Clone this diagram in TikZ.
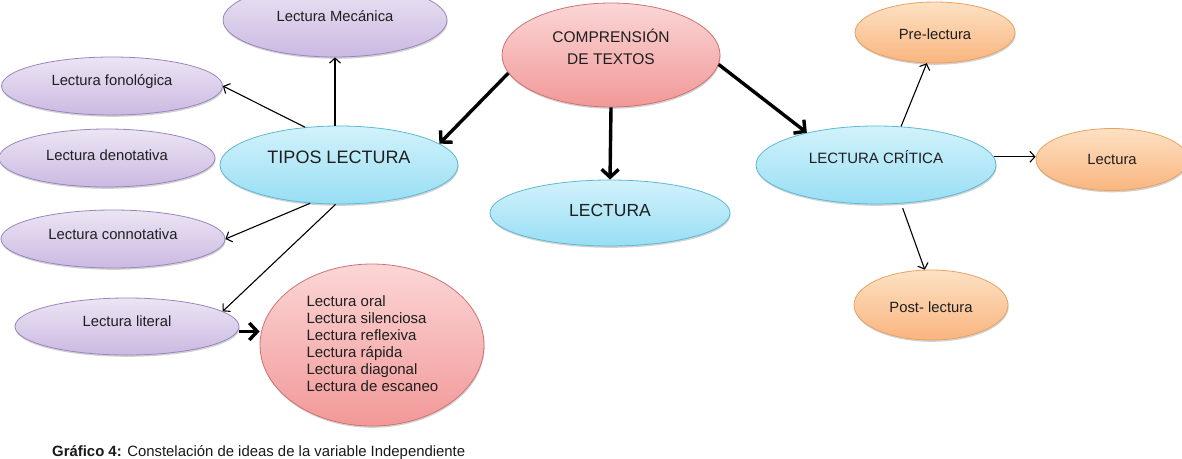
\documentclass[tikz,border=0pt]{standalone}
\usepackage{fontspec}
\setmainfont{Liberation Sans}
\usetikzlibrary{shapes.geometric,arrows.meta,shadows}
\definecolor{purTop}{HTML}{ECE5F4}
\definecolor{purBot}{HTML}{CBB9E2}
\definecolor{purLine}{HTML}{9A86BE}
\definecolor{bluTop}{HTML}{D2F2FB}
\definecolor{bluBot}{HTML}{98DEF4}
\definecolor{bluLine}{HTML}{5DB9D4}
\definecolor{redTop}{HTML}{FBD6D6}
\definecolor{redBot}{HTML}{F29898}
\definecolor{redLine}{HTML}{CF7272}
\definecolor{orTop}{HTML}{FDE1C4}
\definecolor{orBot}{HTML}{F9B57F}
\definecolor{orLine}{HTML}{E9A160}
\begin{document}
\begin{tikzpicture}[x=1pt,y=-1pt,
  ell/.style={ellipse, inner sep=0pt, line width=0.8pt,
    drop shadow={shadow xshift=0.6pt, shadow yshift=-1.8pt, opacity=0.18, fill=black}},
  pur/.style={ell, draw=purLine, top color=purTop, bottom color=purBot},
  blu/.style={ell, draw=bluLine, top color=bluTop, bottom color=bluBot},
  rd/.style={ell, draw=redLine, top color=redTop, bottom color=redBot},
  orn/.style={ell, draw=orLine, top color=orTop, bottom color=orBot},
  sm/.style={font=\fontsize{14.8}{17}\selectfont, text=black!88},
  thin/.style={line width=1.1pt, -{Straight Barb[length=5pt,width=11pt]}},
  thick/.style={line width=3.4pt, -{Straight Barb[length=8pt,width=17pt]}}
]
\useasboundingbox (0,0) rectangle (1182,458);

% left group
\node[pur, minimum width=224pt, minimum height=74pt,
  label={[sm, yshift=4pt]center:Lectura Mecánica}] (meca) at (335,20) {};
\node[pur, minimum width=221pt, minimum height=58pt,
  label={[sm, yshift=4pt]center:Lectura fonológica}] (fono) at (112,86) {};
\node[pur, minimum width=216pt, minimum height=58pt,
  label={[sm, yshift=3pt]center:Lectura denotativa}] (deno) at (107,158) {};
\node[pur, minimum width=224pt, minimum height=58pt,
  label={[sm, yshift=5pt]center:Lectura connotativa}] (conno) at (113,239) {};
\node[pur, minimum width=224pt, minimum height=57pt,
  label={[sm, yshift=5pt]center:Lectura literal}] (lit) at (127,326.5) {};
\node[blu, minimum width=238pt, minimum height=78pt,
  label={[font=\fontsize{18}{20}\selectfont, text=black!88, yshift=8pt]center:TIPOS LECTURA}] (tipos) at (339,165) {};
\node[rd, minimum width=224pt, minimum height=162pt] (list) at (372,345) {};
\node[sm, anchor=west, align=left, font=\fontsize{15}{17}\selectfont] (listtxt) at (303,344)
  {Lectura oral\\Lectura silenciosa\\Lectura reflexiva\\Lectura rápida\\Lectura diagonal\\Lectura de escaneo};

% centre
\node[rd, minimum width=218pt, minimum height=104pt,
  label={[font=\fontsize{15.5}{22}\selectfont, text=black!88, align=center, yshift=8pt]center:COMPRENSIÓN\\DE TEXTOS}] (comp) at (611,55) {};
\node[blu, minimum width=240pt, minimum height=66pt,
  label={[font=\fontsize{17.5}{20}\selectfont, text=black!88, yshift=3pt]center:LECTURA}] (lect) at (610,213) {};

% right group
\node[blu, minimum width=240pt, minimum height=78pt,
  label={[font=\fontsize{15}{18}\selectfont, text=black!88, yshift=8pt]center:LECTURA CRÍTICA}] (crit) at (876,165) {};
\node[orn, minimum width=160pt, minimum height=61pt,
  label={[sm, yshift=-2pt]center:Pre-lectura}] (pre) at (935,32.5) {};
\node[orn, minimum width=152pt, minimum height=62pt,
  label={[sm]center:Lectura}] (lec2) at (1112,159.5) {};
\node[orn, minimum width=154pt, minimum height=70pt,
  label={[sm, yshift=-2pt]center:Post- lectura}] (post) at (931,305) {};

% caption
\node[anchor=base west, inner sep=0pt, font=\fontsize{14.9}{16}\selectfont, text=black!90] (cap) at (52,456)
  {\textbf{Gráfico 4:} Constelación de ideas de la variable Independiente};

% connectors
\draw[thin] (tipos.north -| meca.south) -- (meca.south);
\draw[thin] (tipos.132) -- (fono.east);
\draw[thin] (tipos.233) -- (conno.east);
\draw[thin] (tipos.265) -- (lit.9);
\draw[thick] ([yshift=-5pt]lit.east) -- ([yshift=-5pt]lit.east -| list.west);
\draw[thick] (comp.190) -- (tipos.12);
\draw[thick] (comp.south) -- (lect.north);
\draw[thick] (comp.-5) -- (crit.155);
\draw[thin] (crit.57) -- (pre.255);
\draw[thin] (crit.4) -- (crit.4 -| lec2.west);
\draw[thin, shorten <=5pt] (crit.-57) -- (post.100);
\end{tikzpicture}
\end{document}
